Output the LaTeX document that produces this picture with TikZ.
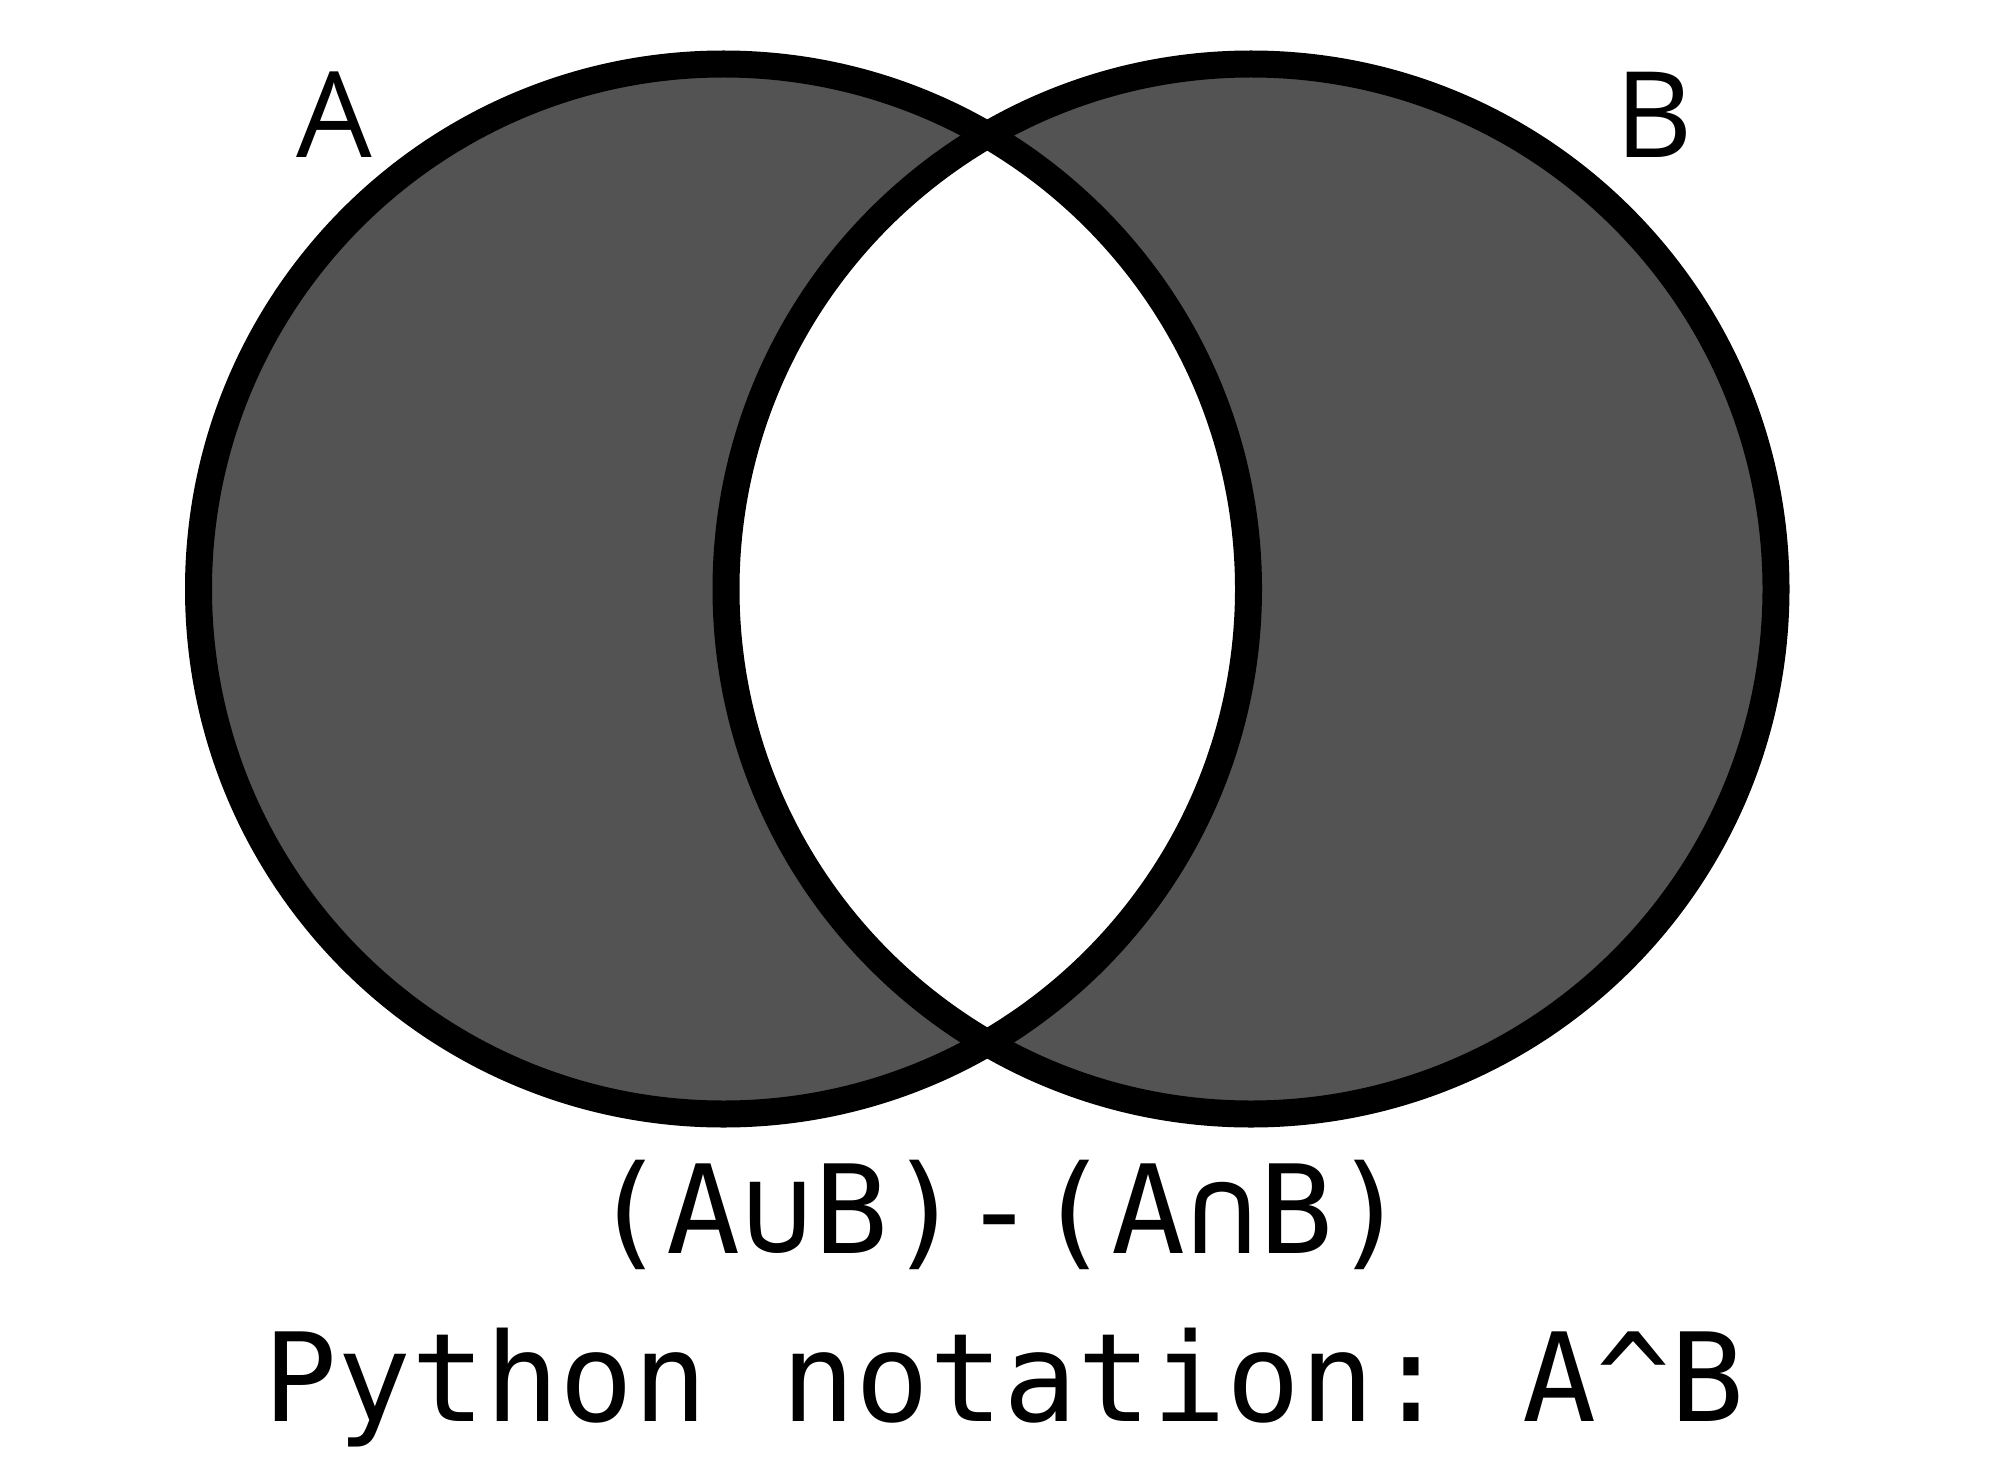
\documentclass[tikz,border=0pt]{standalone}
\usepackage{fontspec}
\setmainfont{Open Sans}
\setmonofont{DejaVu Sans Mono}
\usepackage{xcolor}
\usepackage{tikz}
\usetikzlibrary{positioning}
\definecolor{setgray}{RGB}{83,83,83}

\begin{document}
\begin{tikzpicture}[
                every node/.append style = {anchor = base, inner sep = 0pt},
                setline/.style = {line width = 0.27cm, draw = black},
                setlabel/.style = {font = \fontsize{34pt}{40pt}\selectfont},
                formula/.style = {font = \fontsize{35pt}{42pt}\selectfont\ttfamily}]
            \useasboundingbox (0,0) rectangle (20,-14.58);
            \coordinate (ca) at (7.235,-5.89);
            \coordinate (cb) at (12.51,-5.89);
            % symmetric difference
            \fill[setgray, even odd rule] (ca) circle (5.25) (cb) circle (5.25);
            \draw[setline] (ca) circle (5.25);
            \draw[setline] (cb) circle (5.25);
            \node[setlabel] (lbla) at (3.34,-1.58) {A};
            \node[setlabel] (lblb) at (16.54,-1.58) {B};
            \node[formula] (setexpr) at (10.0,-12.53) {(A∪B)-(A∩B)};
            \node[formula] (pyexpr) at (10.04,-14.21) {Python notation: A\textasciicircum B};
            \end{tikzpicture}
\end{document}
